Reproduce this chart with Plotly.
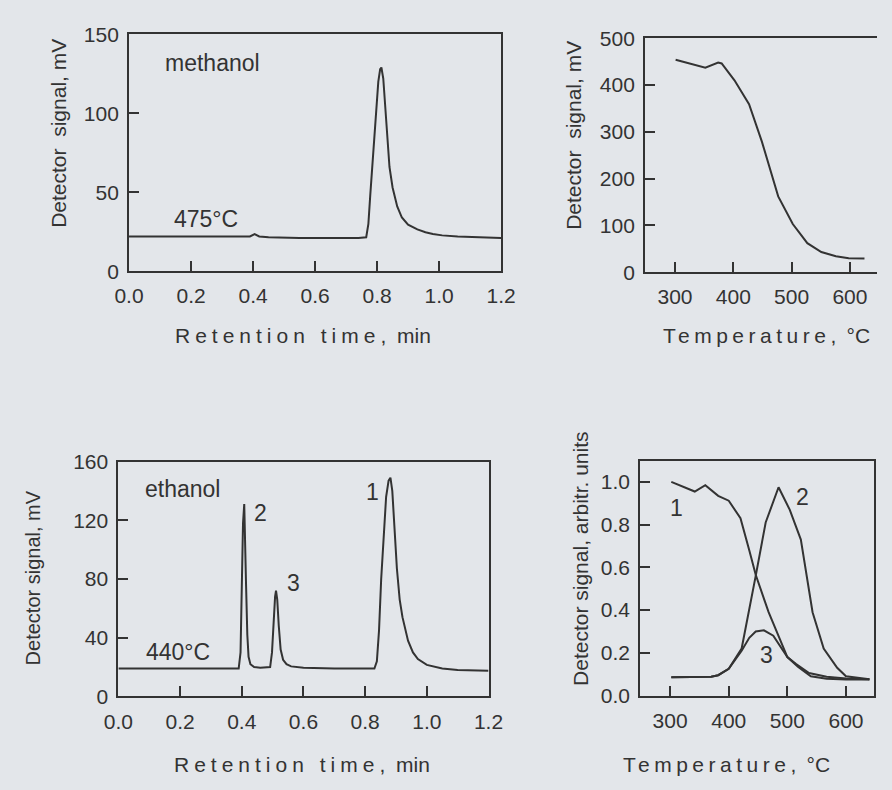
import plotly.graph_objects as go

# ---------------- data ----------------
# Panel a: methanol chromatogram at 475 C
meth_time = [0.0, 0.10, 0.20, 0.30, 0.39, 0.405, 0.412, 0.42, 0.45, 0.55, 0.65, 0.74, 0.765, 0.772,
             0.778, 0.787, 0.796, 0.804, 0.81, 0.814, 0.82, 0.826, 0.832, 0.84, 0.85, 0.865, 0.88,
             0.90, 0.93, 0.956, 0.98, 1.01, 1.06, 1.12, 1.2]
meth_signal = [22, 22, 22, 22, 22, 23.5, 23, 22, 21.5, 21, 21, 21, 21.5, 30,
               48, 74, 100, 120, 128, 129, 122, 103, 84, 66, 53, 41, 34,
               29.5, 26.5, 24.7, 23.6, 22.7, 22, 21.5, 21]

# Panel b: methanol signal vs temperature
meth_temp = [301, 336, 352, 374, 380, 402, 427, 449, 466, 477, 502, 527, 551, 576, 598, 625]
meth_temp_signal = [454, 443, 437, 448, 446, 410, 359, 279, 210, 162, 103, 62, 43, 34, 30, 29]

# Panel c: ethanol chromatogram at 440 C
eth_time = [0.0, 0.1, 0.2, 0.3, 0.39, 0.396, 0.400, 0.404, 0.408, 0.411, 0.414, 0.418, 0.422, 0.428,
            0.44, 0.46, 0.48, 0.492, 0.498, 0.503, 0.508, 0.511, 0.515, 0.52, 0.526, 0.534, 0.545,
            0.56, 0.6, 0.7, 0.8, 0.83, 0.838, 0.845, 0.852, 0.86, 0.868, 0.876, 0.882, 0.888, 0.895,
            0.903, 0.912, 0.921, 0.939, 0.955, 0.971, 1.0, 1.05, 1.1, 1.2]
eth_signal = [19, 19, 19, 19, 19, 30, 75, 118, 131, 110, 75, 42, 27, 22,
              20, 19.5, 19.5, 20, 30, 52, 68, 72, 66, 48, 32, 25, 22,
              20.5, 19.5, 19, 19, 19, 24, 45, 80, 112, 136, 147, 149, 140, 115,
              87, 66, 54, 38, 30, 25.5, 21.5, 19, 18, 17.5]

# Panel d: normalised signals vs temperature (1 ethanol, 2 and 3 products)
temp_1 = [302, 342, 360, 382, 400, 420, 435, 446, 468, 490, 500, 515, 537, 567, 600, 640]
signal_1 = [1.0, 0.955, 0.985, 0.935, 0.912, 0.83, 0.68, 0.565, 0.39, 0.25, 0.18, 0.147, 0.105, 0.088, 0.08, 0.076]
temp_2 = [302, 340, 370, 382, 400, 422, 435, 446, 463, 485, 504, 523, 543, 562, 585, 600, 640]
signal_2 = [0.085, 0.085, 0.088, 0.095, 0.125, 0.22, 0.40, 0.56, 0.81, 0.975, 0.87, 0.73, 0.39, 0.22, 0.13, 0.09, 0.076]
temp_3 = [302, 340, 370, 382, 400, 422, 435, 446, 460, 476, 490, 500, 518, 540, 567, 600, 640]
signal_3 = [0.085, 0.085, 0.088, 0.095, 0.125, 0.21, 0.27, 0.30, 0.305, 0.28, 0.225, 0.18, 0.135, 0.09, 0.078, 0.075, 0.075]

time_ticks = [0.0, 0.2, 0.4, 0.6, 0.8, 1.0, 1.2]
temp_ticks = [300, 400, 500, 600]
meth_yticks = [0, 50, 100, 150]
temp_yticks = [0, 100, 200, 300, 400, 500]
eth_yticks = [0, 40, 80, 120, 160]
norm_yticks = [0.0, 0.2, 0.4, 0.6, 0.8, 1.0]

# ---------------- style ----------------
W, H = 892, 790
BG = "#e3e6ea"
INK = "#333333"
FONT = "Liberation Sans, Arial, sans-serif"
TICK_SIZE = 21
LABEL_SIZE = 23
TITLE_SIZE = 21

def dom_x(a, b):
    return [a / W, min(b / W, 1.0)]

def dom_y(top, bottom):
    return [1 - bottom / H, 1 - top / H]

fig = go.Figure()
line = dict(color=INK, width=2)
fig.add_trace(go.Scatter(x=meth_time, y=meth_signal, mode="lines", line=line, xaxis="x", yaxis="y"))
fig.add_trace(go.Scatter(x=meth_temp, y=meth_temp_signal, mode="lines", line=line, xaxis="x2", yaxis="y2"))
fig.add_trace(go.Scatter(x=eth_time, y=eth_signal, mode="lines", line=line, xaxis="x3", yaxis="y3"))
fig.add_trace(go.Scatter(x=temp_1, y=signal_1, mode="lines", line=line, xaxis="x4", yaxis="y4"))
fig.add_trace(go.Scatter(x=temp_2, y=signal_2, mode="lines", line=line, xaxis="x4", yaxis="y4"))
fig.add_trace(go.Scatter(x=temp_3, y=signal_3, mode="lines", line=line, xaxis="x4", yaxis="y4"))

def xax(domain, rng, ticks, fmt, anchor, mirror=True):
    return dict(domain=domain, range=rng, tickvals=ticks, ticktext=[fmt(v) for v in ticks],
                ticks="inside", ticklen=10, tickwidth=1.5, tickcolor=INK,
                showline=True, linecolor=INK, linewidth=2, mirror=mirror,
                showgrid=False, zeroline=False, anchor=anchor, ticklabelstandoff=5,
                tickfont=dict(family=FONT, size=TICK_SIZE, color=INK))

def yax(domain, rng, ticks, fmt, anchor, mirror=True):
    return dict(domain=domain, range=rng, tickvals=ticks, ticktext=[fmt(v) for v in ticks],
                ticks="inside", ticklen=10, tickwidth=1.5, tickcolor=INK,
                showline=True, linecolor=INK, linewidth=2, mirror=mirror,
                showgrid=False, zeroline=False, anchor=anchor, ticklabelstandoff=4,
                tickfont=dict(family=FONT, size=TICK_SIZE, color=INK))

f1 = lambda v: f"{v:.1f}"
f0 = lambda v: f"{v:.0f}"

fig.update_layout(
    width=W, height=H, margin=dict(l=0, r=0, t=0, b=0), autosize=False,
    paper_bgcolor=BG, plot_bgcolor=BG, showlegend=False,
    font=dict(family=FONT, color=INK),
    xaxis=xax(dom_x(118, 503), [0, 1.2], time_ticks, f1, "y"),
    yaxis=yax(dom_y(23, 267), [0, 150], meth_yticks, f0, "x"),
    xaxis2=xax(dom_x(652, 892), [248.6, 646.5], temp_ticks, f0, "y2"),
    yaxis2=yax(dom_y(27, 268), [0, 500], temp_yticks, f0, "x2", mirror=False),
    xaxis3=xax(dom_x(107, 490), [0, 1.2], time_ticks, f1, "y3"),
    yaxis3=yax(dom_y(463, 705), [0, 160], eth_yticks, f0, "x3"),
    xaxis4=xax(dom_x(647, 889), [249, 648], temp_ticks, f0, "y4"),
    yaxis4=yax(dom_y(462, 704), [0, 1.1], norm_yticks, f1, "x4"),
)

ann = []
def text(x, y, s, xref, yref, size=LABEL_SIZE, xanchor="left", angle=0):
    ann.append(dict(x=x, y=y, text=s, xref=xref, yref=yref, showarrow=False, xanchor=xanchor,
                    yanchor="middle", textangle=angle, font=dict(family=FONT, size=size, color=INK)))

# in-plot labels
text(0.109, 132, "methanol", "x", "y")
text(0.137, 33, "475°C", "x", "y")
text(0.08, 141, "ethanol", "x3", "y3")
text(0.082, 30, "440°C", "x3", "y3")
text(0.46, 125, "2", "x3", "y3", xanchor="center")
text(0.567, 77, "3", "x3", "y3", xanchor="center")
text(0.824, 139.5, "1", "x3", "y3", xanchor="center")
text(311, 0.88, "1", "x4", "y4", xanchor="center")
text(526, 0.93, "2", "x4", "y4", xanchor="center")
text(465, 0.19, "3", "x4", "y4", xanchor="center")

# axis titles
def ptext(px, py, s, size=TITLE_SIZE, angle=0):
    ann.append(dict(x=px / W, y=1 - py / H, text=s, xref="paper", yref="paper", showarrow=False,
                    xanchor="center", yanchor="middle", textangle=angle,
                    font=dict(family=FONT, size=size, color=INK)))

RT = '<span style="letter-spacing:5px">Retention time,</span> min'
TC = '<span style="letter-spacing:4.5px">Temperature,</span> °C'
ptext(45, 125, "Detector  signal, mV", angle=-90)
ptext(578, 127, "Detector  signal, mV", angle=-90)
ptext(19, 583, "Detector signal, mV", size=20, angle=-90)
ptext(585, 563, "Detector signal, arbitr. units", angle=-90)
ptext(298, 333, RT)
ptext(297, 775, RT)
ptext(778, 333, TC)
ptext(736, 775, TC)

fig.update_layout(annotations=ann)

post = """
(function(){
document.documentElement.style.margin='0';document.body.style.margin='0';document.body.style.padding='0';
document.documentElement.style.overflow='hidden';document.body.style.overflow='hidden';
})();
"""
fig.write_html("out.html", post_script=post, config={"displayModeBar": False})
